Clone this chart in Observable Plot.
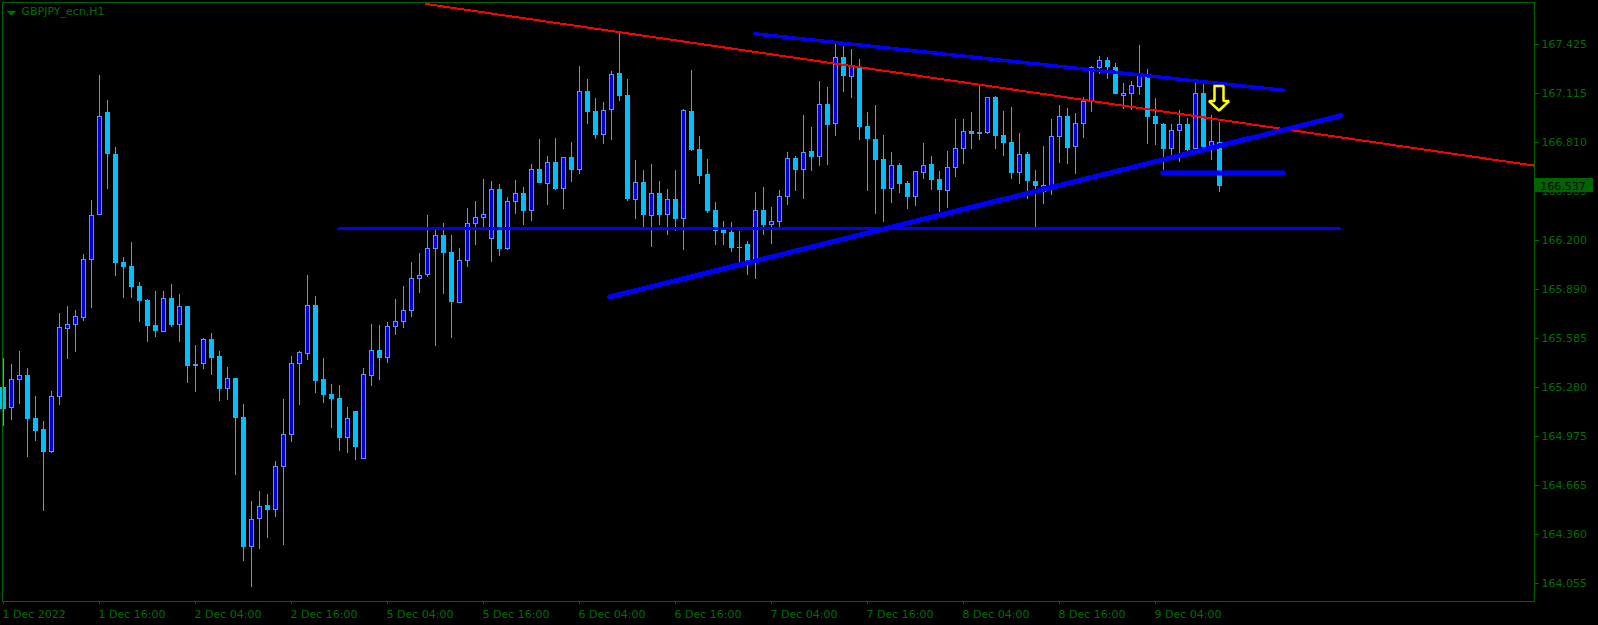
<!DOCTYPE html>
<html>
<head>
<meta charset="utf-8">
<script src="https://cdn.jsdelivr.net/npm/d3@7"></script>
<script src="https://cdn.jsdelivr.net/npm/@observablehq/plot@0.6"></script>
<style>
html,body{margin:0;padding:0;background:#000;overflow:hidden}
svg{display:block}
</style>
</head>
<body>
<div id="chart"></div>
<script>
const opens = [165.273,165.150,165.325,165.350,165.081,165.015,164.875,165.219,165.643,165.669,
165.712,166.074,166.356,166.995,166.732,166.056,166.033,165.908,165.820,165.665,
165.624,165.833,165.669,165.783,165.422,165.424,165.576,165.471,165.269,165.333,
165.091,164.280,164.457,164.539,164.512,164.782,164.980,165.424,165.487,165.789,
165.326,165.232,165.207,164.962,165.126,164.830,165.349,165.507,165.462,165.657,
165.687,165.755,165.955,165.980,166.143,166.226,166.120,165.805,166.068,166.299,
166.337,166.205,166.514,166.143,166.437,166.489,166.380,166.639,166.549,166.682,
166.518,166.714,166.637,167.126,167.001,166.855,167.012,167.239,167.101,166.449,
166.557,166.351,166.489,166.355,166.451,166.330,167.003,166.766,166.610,166.385,
166.260,166.247,166.151,166.170,166.072,166.382,166.293,166.312,166.468,166.707,
166.637,166.751,166.718,167.045,166.924,167.339,167.218,167.276,166.907,166.826,
166.701,166.518,166.664,166.551,166.468,166.618,166.670,166.576,166.505,166.649,
166.768,166.876,166.870,166.868,167.089,166.851,166.807,166.618,166.732,166.564,
166.499,166.541,166.843,166.970,166.780,166.924,167.068,167.274,167.320,167.276,
167.101,167.112,167.155,167.218,166.970,166.920,166.768,166.880,166.920,166.768,
167.114,166.780,166.807];
const highs = [165.460,165.422,165.503,165.398,165.221,165.066,165.254,165.740,165.785,165.759,
166.110,166.446,167.227,167.072,166.777,166.091,166.186,165.934,165.828,165.878,
165.878,165.923,165.861,165.783,165.540,165.585,165.615,165.503,165.404,165.333,
165.172,164.566,164.628,164.610,164.816,165.203,165.472,165.503,165.982,165.847,
165.459,165.297,165.291,165.153,165.126,165.395,165.672,165.666,165.685,165.828,
165.910,166.060,166.116,166.353,166.259,166.303,166.228,166.147,166.397,166.441,
166.578,166.564,166.547,166.466,166.572,166.528,166.672,166.828,166.722,166.834,
166.714,166.809,167.284,167.203,167.082,167.057,167.253,167.489,167.201,166.697,
166.634,166.672,166.566,166.516,166.634,167.016,167.260,166.847,166.703,166.435,
166.316,166.310,166.253,166.191,166.495,166.528,166.403,166.510,166.747,166.720,
166.978,166.903,167.191,167.153,167.422,167.410,167.391,167.328,166.995,167.041,
166.853,166.747,166.678,166.566,166.628,166.803,166.722,166.628,166.757,166.953,
166.953,166.997,167.164,167.089,167.097,167.003,167.026,166.866,166.747,166.638,
166.785,166.953,167.041,167.022,166.991,167.091,167.285,167.347,167.341,167.303,
167.178,167.191,167.416,167.266,167.085,166.928,166.922,167.010,166.960,167.185,
167.180,166.978,166.935];
const lows = [165.036,165.073,165.174,164.843,164.944,164.505,164.868,165.168,165.456,165.499,
165.693,165.774,166.356,166.517,165.973,165.837,165.837,165.686,165.561,165.594,
165.624,165.656,165.561,165.305,165.249,165.394,165.355,165.193,165.200,164.731,
164.191,164.030,164.268,164.337,164.468,164.293,164.937,165.166,165.447,165.243,
165.180,165.024,164.880,164.868,164.824,164.830,165.287,165.324,165.430,165.605,
165.649,165.718,165.868,165.968,165.537,165.859,165.587,165.805,166.030,166.168,
166.270,166.062,166.099,166.137,166.359,166.293,166.318,166.555,166.416,166.512,
166.391,166.559,166.612,166.924,166.830,166.799,166.824,167.068,166.443,166.328,
166.270,166.155,166.293,166.230,166.255,166.135,166.753,166.547,166.366,166.166,
166.166,166.122,166.057,165.978,165.953,166.230,166.172,166.270,166.416,166.503,
166.453,166.628,166.660,166.666,166.847,167.122,167.085,166.822,166.503,166.359,
166.310,166.428,166.491,166.391,166.410,166.578,166.510,166.370,166.397,166.591,
166.672,166.766,166.822,166.860,166.766,166.722,166.578,166.547,166.453,166.280,
166.422,166.478,166.678,166.672,166.610,166.835,166.997,167.235,167.203,167.112,
167.018,167.012,167.103,166.797,166.791,166.635,166.708,166.686,166.739,166.759,
166.770,166.699,166.499];
const closes = [165.144,165.327,165.350,165.081,165.006,164.875,165.219,165.652,165.669,165.721,
166.076,166.351,166.969,166.737,166.056,166.031,165.906,165.818,165.663,165.630,
165.833,165.669,165.783,165.411,165.411,165.576,165.462,165.269,165.333,165.086,
164.280,164.451,164.532,164.512,164.782,164.982,165.426,165.495,165.789,165.318,
165.230,165.205,164.962,165.082,164.905,165.357,165.507,165.462,165.657,165.689,
165.757,165.957,165.976,166.145,166.226,166.118,165.812,166.070,166.299,166.339,
166.357,166.514,166.147,166.439,166.489,166.380,166.639,166.555,166.682,166.518,
166.714,166.637,167.126,166.999,166.855,167.007,167.232,167.099,166.455,166.557,
166.355,166.489,166.355,166.451,166.330,167.007,166.762,166.599,166.380,166.257,
166.243,166.149,166.149,166.066,166.382,166.293,166.314,166.470,166.707,166.637,
166.745,166.718,167.045,166.918,167.337,167.224,167.291,166.905,166.830,166.699,
166.518,166.664,166.549,166.468,166.626,166.664,166.574,166.512,166.651,166.770,
166.876,166.862,166.862,167.089,166.849,166.805,166.618,166.732,166.568,166.536,
166.539,166.845,166.970,166.774,166.926,167.064,167.276,167.320,167.280,167.112,
167.114,167.164,167.239,166.968,166.924,166.768,166.882,166.920,166.762,167.114,
166.780,166.814,166.536];

const priceTicks = [167.425,167.115,166.810,166.505,166.200,165.890,165.585,165.280,164.975,164.665,164.360,164.055];
const timeTicks = [0,12,24,36,48,60,72,84,96,108,120,132,144];
const timeLabels = ["1 Dec 2022","1 Dec 16:00","2 Dec 04:00","2 Dec 16:00","5 Dec 04:00","5 Dec 16:00","6 Dec 04:00","6 Dec 16:00","7 Dec 04:00","7 Dec 16:00","8 Dec 04:00","8 Dec 16:00","9 Dec 04:00"];

const redLine = {xs:[52.8,191.3], ys:[167.676,166.666]};
const upperLine = {xs:[93.94,160.06], ys:[167.489,167.136]};
const lowerLine = {xs:[75.8,167.19], ys:[165.845,166.978]};
const flatLine = {xs:[41.9,167.06], ys:[166.270,166.270]};
const shortLine = {xs:[144.9,160.0], ys:[166.620,166.620]};
const arrowXs = [151.375,152.5,152.5,153.19,151.94,150.69,151.375,151.375];
const arrowYs = [167.163,167.163,167.069,167.069,167.010,167.069,167.069,167.163];
const lastPrice = 166.537;
const symbolName = "GBPJPY_ecn,H1";

const GREEN = "#006400", LABEL = "#007000", UP = "#0000e0", DOWN = "#00bfff", EDGE = "#6495ed", BLUE = "#0000ff";

const candles = opens.map((o,i)=>({i,open:o,high:highs[i],low:lows[i],close:closes[i],up:closes[i]>=o}));
const bodyColor = d => d.up ? UP : Math.abs(d.open-d.close)<0.015 ? EDGE : DOWN;
const edgeColor = d => d.up ? EDGE : Math.abs(d.open-d.close)<0.015 ? EDGE : DOWN;
const seg = s => s.xs.map((x,k)=>({x,y:s.ys[k]}));
const flatTriangle = {draw(c){c.moveTo(-5,-2.3);c.lineTo(5,-2.3);c.lineTo(0,2.7);c.closePath();}};
const crisp = {shapeRendering:"crispEdges"};

const chart = Plot.plot({
  width:1598,height:625,
  marginLeft:2,marginRight:64,marginTop:2,marginBottom:24.5,
  style:{background:"#000",fontFamily:"'DejaVu Sans',sans-serif",fontSize:"11px",color:LABEL},
  x:{type:"linear",domain:[-0.125,191.375]},
  y:{type:"linear",domain:[167.685,163.945],range:[2,600.5]},
  marks:[
    Plot.ruleX(candles,{x:"i",y1:"low",y2:"high",stroke:EDGE,strokeWidth:1,...crisp}),
    Plot.rect(candles,{x1:d=>d.i-0.25,x2:d=>d.i+0.25,y1:"open",y2:"close",
      fill:bodyColor,stroke:edgeColor,strokeWidth:1,...crisp}),
    Plot.line(seg(redLine),{x:"x",y:"y",stroke:"#ff0000",strokeWidth:2,...crisp}),
    Plot.line(seg(flatLine),{x:"x",y:"y",stroke:BLUE,strokeWidth:3,...crisp}),
    Plot.line(seg(upperLine),{x:"x",y:"y",stroke:BLUE,strokeWidth:3.5,...crisp}),
    Plot.line(seg(lowerLine),{x:"x",y:"y",stroke:BLUE,strokeWidth:5,...crisp}),
    Plot.line(seg(shortLine),{x:"x",y:"y",stroke:BLUE,strokeWidth:5,strokeLinecap:"round"}),
    Plot.line(arrowXs.map((x,k)=>({x,y:arrowYs[k]})),{x:"x",y:"y",stroke:"#ffff00",strokeWidth:2.5,fill:"#000",strokeLinejoin:"miter"}),
    Plot.frame({stroke:GREEN,strokeWidth:1,...crisp}),
    Plot.axisY({anchor:"right",ticks:priceTicks,tickFormat:d=>d.toFixed(3),tickSize:4,tickPadding:3,label:null,stroke:GREEN,fill:LABEL,fontSize:11,...crisp}),
    Plot.axisX({anchor:"bottom",ticks:timeTicks,text:null,tickSize:3,label:null,stroke:GREEN,...crisp}),
    Plot.text(timeTicks,{x:d=>d,frameAnchor:"bottom",text:d=>timeLabels[timeTicks.indexOf(d)],textAnchor:"start",lineAnchor:"middle",dx:-1,dy:13.5,fill:LABEL,fontSize:11,clip:false}),
    Plot.rect([lastPrice],{x1:191.56,x2:198.7,y1:d=>d+0.047,y2:d=>d-0.038,fill:GREEN,clip:false,...crisp}),
    Plot.text([lastPrice],{x:192.1,y:d=>d,text:d=>d.toFixed(3),textAnchor:"start",fill:"#000",fontSize:11}),
    Plot.text([symbolName],{frameAnchor:"top-left",dx:19,dy:5,fill:LABEL,fontSize:11,lineAnchor:"top"}),
    Plot.dot([0],{frameAnchor:"top-left",dx:9,dy:10.5,r:4,symbol:flatTriangle,fill:LABEL,stroke:"none"})
  ]
});
document.getElementById("chart").appendChild(chart);
</script>
</body>
</html>
